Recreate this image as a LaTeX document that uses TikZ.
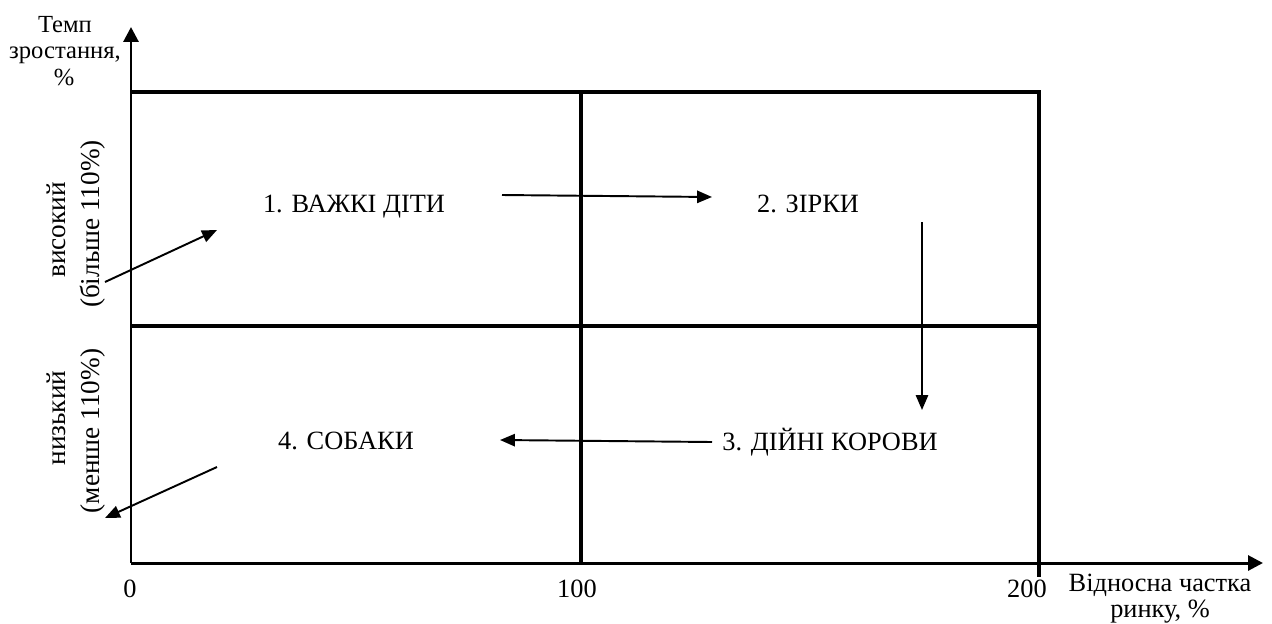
\documentclass[tikz,border=0pt]{standalone}
\usepackage{fontspec}
\setmainfont{Liberation Serif}
\usetikzlibrary{arrows.meta}
\begin{document}
\begin{tikzpicture}[x=0.02cm,y=-0.02cm,
  gridline/.style={line width=2.2pt},
  axisline/.style={line width=1.7pt,-{Triangle[length=8.5pt,width=8.5pt]}},
  flow/.style={line width=1.1pt,-{Triangle[length=8.5pt,width=7pt]}},
  lab/.style={font=\fontsize{14}{16}\selectfont,anchor=base,inner sep=0pt},
  qlab/.style={lab,font=\fontsize{15}{17}\selectfont},
  xlab/.style={lab,font=\fontsize{15}{17}\selectfont},
  rlab/.style={lab,font=\fontsize{15.5}{17}\selectfont,rotate=90}]
\useasboundingbox (0,0) rectangle (1272,623);
% axes
\coordinate (O) at (131,563);
\coordinate (Ytip) at (131,27);
\coordinate (Xtip) at (1263,563);
\draw[axisline] (O) -- (Ytip);
\draw[axisline] (O) -- (Xtip);
% grid
\coordinate (TL) at (131,92);
\coordinate (TR) at (1039,92);
\coordinate (ML) at (131,326);
\coordinate (MR) at (1039,326);
\coordinate (VT) at (581,92);
\coordinate (VB) at (581,563);
\coordinate (RB) at (1039,575);
\draw[gridline] (TL) -- (TR);
\draw[gridline] (ML) -- (MR);
\draw[gridline] (VT) -- (VB);
\draw[gridline,line cap=rect] (TR) -- (RB);
% quadrant labels
\node[qlab] (q1) at (354,212) {1. ВАЖКІ ДІТИ};
\node[qlab] (q2) at (808,212) {2. ЗІРКИ};
\node[qlab] (q3) at (830,450) {3. ДІЙНІ КОРОВИ};
\node[qlab] (q4) at (346,449) {4. СОБАКИ};
% flow arrows
\coordinate (a1s) at (502,195);
\coordinate (a1e) at (712,197);
\coordinate (a2s) at (922,222);
\coordinate (a2e) at (922,410);
\coordinate (a3s) at (712,442);
\coordinate (a3e) at (500,440);
\coordinate (a4s) at (105,282);
\coordinate (a4e) at (217,230);
\coordinate (a5s) at (217,467);
\coordinate (a5e) at (105,518);
\draw[flow] (a1s) -- (a1e);
\draw[flow] (a2s) -- (a2e);
\draw[flow] (a3s) -- (a3e);
\draw[flow] (a4s) -- (a4e);
\draw[flow] (a5s) -- (a5e);
% y-axis labels
\node[lab] (yl1) at (65,32) {Темп};
\node[lab] (yl2) at (65,58) {зростання,};
\node[lab] (yl3) at (64,85) {\%};
\node[rlab] (hi1) at (65,230) {високий};
\node[rlab] (hi2) at (99,224) {(більше 110\%)};
\node[rlab] (lo1) at (65,418) {низький};
\node[rlab] (lo2) at (99,431) {(менше 110\%)};
% x-axis labels
\node[xlab] (x0) at (130,597) {0};
\node[xlab] (x100) at (577,597) {100};
\node[xlab] (x200) at (1027,597) {200};
\node[xlab,font=\fontsize{15}{14.5}\selectfont,align=center] (xl) at (1160,617) {Відносна частка\\ринку, \%};
\end{tikzpicture}
\end{document}
